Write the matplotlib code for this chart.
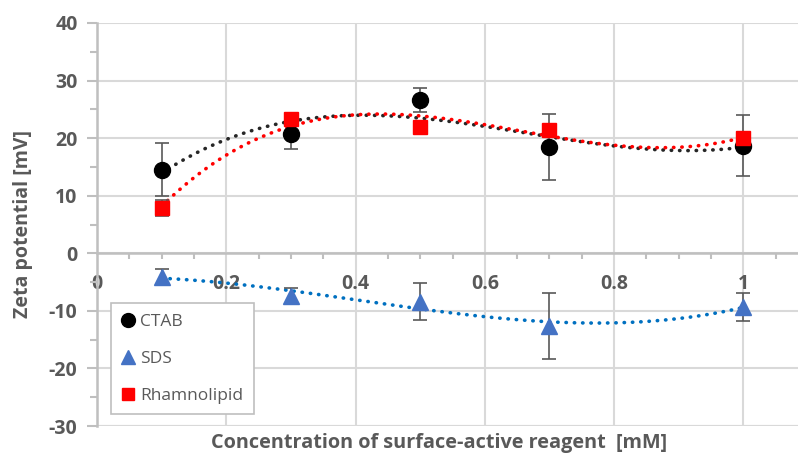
import numpy as np
import matplotlib
matplotlib.use('Agg')
from matplotlib import pyplot as plt
from matplotlib.ticker import MultipleLocator

plt.rcParams['font.family'] = ['Open Sans', 'DejaVu Sans']
plt.rcParams['axes.unicode_minus'] = False

conc = [0.1, 0.3, 0.5, 0.7, 1.0]

ctab = [14.5, 20.7, 26.6, 18.5, 18.7]
ctab_err = [4.6, 2.6, 2.1, 5.7, 5.3]

sds = [-4.1, -7.4, -8.4, -12.6, -9.3]
sds_err = [1.3, 1.3, 3.2, 5.7, 2.4]

rhamno = [7.8, 23.4, 22.0, 21.4, 20.0]
rhamno_err = [1.4, 0.8, 0.8, 0.8, 0.8]

gray = '#595959'

fig = plt.figure(figsize=(7.98, 4.57), dpi=100)
ax = fig.add_axes([97/798, 1-426/457, 711/798, 403/457])

ax.set_xlim(0, 1.1)
ax.set_ylim(-30, 40)

ax.xaxis.set_major_locator(MultipleLocator(0.2))
ax.xaxis.set_minor_locator(MultipleLocator(0.05))
ax.yaxis.set_major_locator(MultipleLocator(10))
ax.yaxis.set_minor_locator(MultipleLocator(5))
ax.xaxis.set_major_formatter(plt.FuncFormatter(lambda v, p: ('%g' % round(v, 2))))

ax.grid(True, which='major', color='#d9d9d9', linewidth=1.5)
ax.set_axisbelow(True)

for s in ['top', 'right']:
    ax.spines[s].set_visible(False)
ax.spines['bottom'].set_position(('data', 0))
ax.spines['bottom'].set_color('#bfbfbf')
ax.spines['bottom'].set_linewidth(1.8)
ax.spines['left'].set_color('#bfbfbf')
ax.spines['left'].set_linewidth(1.8)
ax.axhline(-30, color='#d9d9d9', linewidth=1.5, zorder=0)

ax.tick_params(axis='y', which='both', direction='out', color='#bfbfbf', width=1.5,
               labelsize=14, labelcolor=gray, pad=7)
ax.tick_params(axis='y', which='major', length=7)
ax.tick_params(axis='y', which='minor', length=5)
ax.tick_params(axis='x', which='major', length=0, labelsize=14, labelcolor=gray, pad=15)
ax.tick_params(axis='x', which='minor', length=4, direction='out', color='#bfbfbf', width=1.5)
for lab in ax.get_xticklabels() + ax.get_yticklabels():
    lab.set_fontweight('bold')

# trendlines (3rd order polynomial)
xs = np.linspace(0.1, 1.0, 200)
for y, c in [(ctab, '#262626'), (rhamno, '#ff0000'), (sds, '#0070c0')]:
    coef = np.polyfit(conc, y, 3)
    ax.plot(xs, np.polyval(coef, xs), color=c, linewidth=2.6,
            linestyle=(0, (0.1, 2.2)), dash_capstyle='round', zorder=3)

eb = dict(ecolor=gray, elinewidth=1.2, capsize=5, capthick=1.2, linestyle='none', zorder=4)
ax.errorbar(conc, ctab, yerr=ctab_err, marker='o', markersize=11.5, color='black',
            label='CTAB', **eb)
ax.errorbar(conc, sds, yerr=sds_err, marker='^', markersize=11, color='#4472c4',
            label='SDS', **eb)
ax.errorbar(conc, rhamno, yerr=rhamno_err, marker='s', markersize=9.5, color='#ff0000',
            label='Rhamnolipid', **eb)

handles = [plt.Line2D([], [], marker='o', color='black', linestyle='none', markersize=10),
           plt.Line2D([], [], marker='^', color='#4472c4', linestyle='none', markersize=10),
           plt.Line2D([], [], marker='s', color='#ff0000', linestyle='none', markersize=9)]
leg = ax.legend(handles, ['CTAB', 'SDS', 'Rhamnolipid'], loc='lower left',
                bbox_to_anchor=(0.007, 0.008), fontsize=12.5, labelspacing=1.2,
                handlelength=0.8, handletextpad=0.3, borderpad=0.6,
                frameon=True, fancybox=False, edgecolor='#bfbfbf', framealpha=1)
leg.get_frame().set_linewidth(1.2)
for t in leg.get_texts():
    t.set_color(gray)

fig.text(23/798, 1-224/457, 'Zeta potential [mV]', rotation=90, ha='center', va='center',
         fontsize=14, fontweight='bold', color=gray)
fig.text(439/798, 1-443/457, 'Concentration of surface-active reagent  [mM]', ha='center',
         va='center', fontsize=14.3, fontweight='bold', color=gray)

fig.savefig('out.png', dpi=100)
